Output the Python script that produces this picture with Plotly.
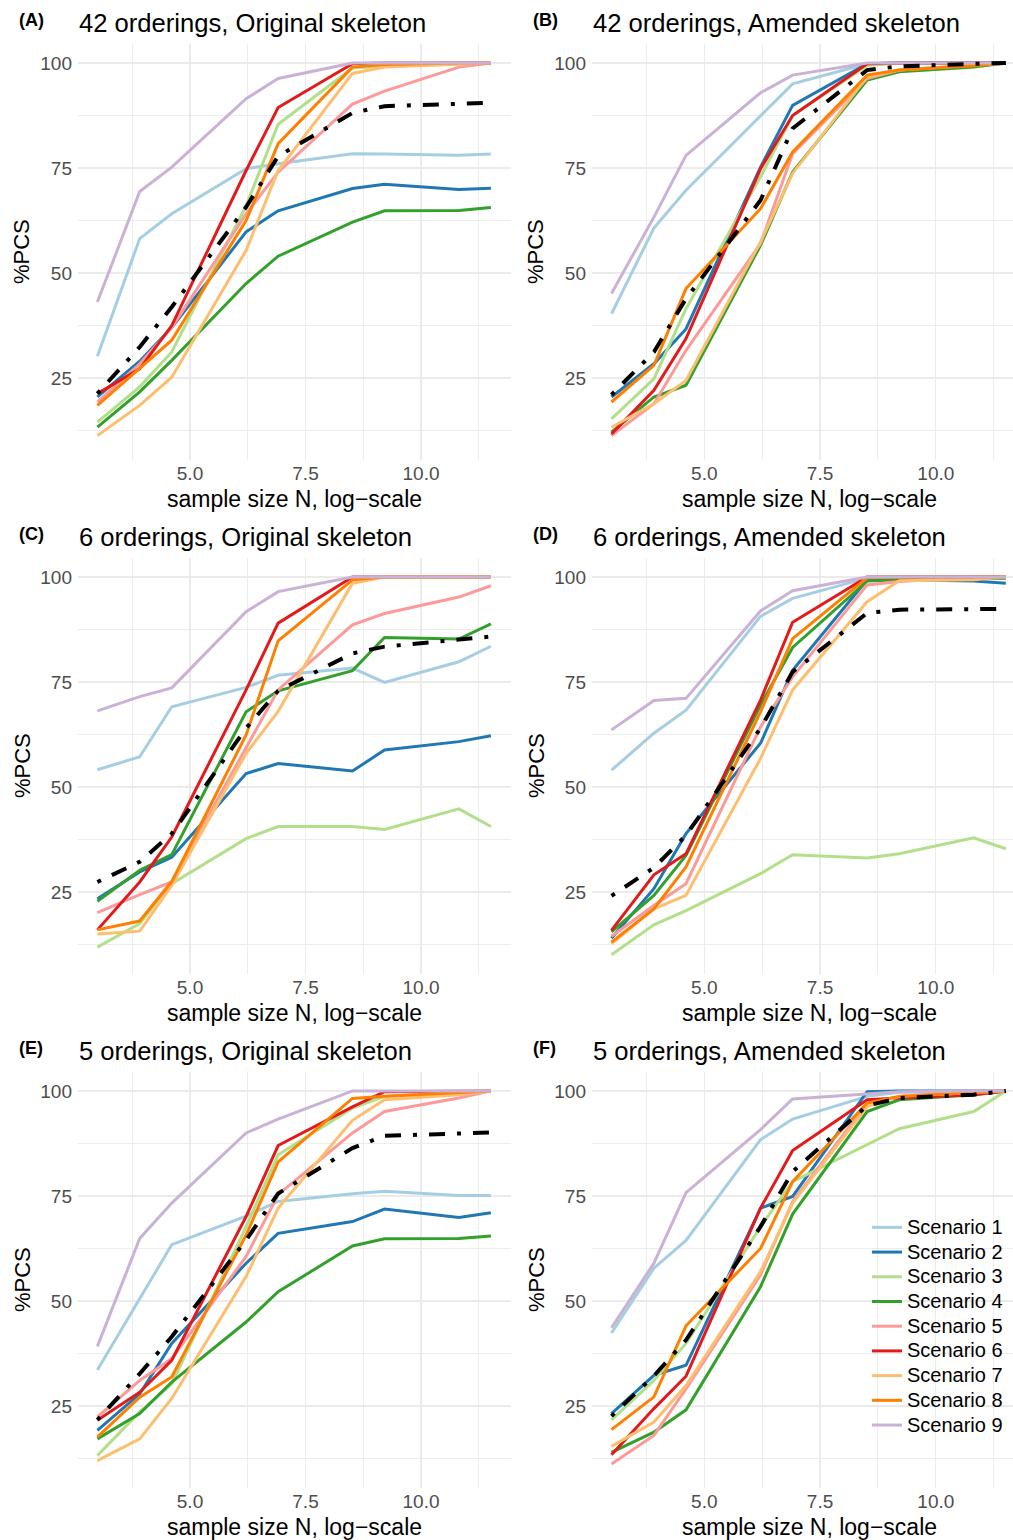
import numpy as np
import plotly.graph_objects as go

# ---------------- data ----------------
sample_size = [20, 50, 100, 500, 1000, 5000, 10000, 50000, 100000]
scenario_names = ["Scenario 1", "Scenario 2", "Scenario 3", "Scenario 4", "Scenario 5",
                  "Scenario 6", "Scenario 7", "Scenario 8", "Scenario 9"]
scenario_colors = ["#A6CEE3", "#1F78B4", "#B2DF8A", "#33A02C", "#FB9A99",
                   "#E31A1C", "#FDBF6F", "#FF7F00", "#CAB2D6"]
panel_labels = ["(A)", "(B)", "(C)", "(D)", "(E)", "(F)"]
panel_titles = ["42 orderings, Original skeleton", "42 orderings, Amended skeleton",
                "6 orderings, Original skeleton", "6 orderings, Amended skeleton",
                "5 orderings, Original skeleton", "5 orderings, Amended skeleton"]
x_tick_vals = [5.0, 7.5, 10.0]
x_minor_vals = [3.75, 6.25, 8.75, 11.25]
y_tick_vals = [25, 50, 75, 100]
y_minor_vals = [12.5, 37.5, 62.5, 87.5]

pcs_A = [
    [30.2, 58.2, 64.1, 74.8, 76.0, 78.4, 78.3, 78.0, 78.3],
    [20.5, 29.0, 37.0, 59.8, 64.8, 70.1, 71.1, 69.9, 70.2],
    [14.5, 22.9, 31.2, 66.0, 85.4, 98.8, 99.2, 99.8, 100],
    [13.3, 21.7, 29.2, 47.5, 54.0, 62.1, 64.8, 64.9, 65.6],
    [19.3, 28.4, 37.0, 64.1, 74.0, 90.2, 93.3, 99.0, 100],
    [21.3, 27.2, 37.5, 74.4, 89.4, 99.8, 100, 100, 100],
    [11.3, 18.5, 25.2, 55.4, 74.4, 97.5, 99.0, 99.8, 100],
    [18.5, 27.2, 34.0, 62.5, 80.8, 99.0, 99.6, 100, 100],
    [43.1, 69.4, 75.2, 91.5, 96.3, 100, 100, 100, 100],
]
mean_A = [21.3, 32.4, 41.9, 65.7, 77.8, 88.1, 89.7, 90.2, 90.5]

pcs_B = [
    [40.3, 60.7, 69.7, 87.5, 95.0, 99.8, 100, 100, 100],
    [20.5, 28.4, 36.7, 75.2, 89.9, 99.8, 100, 100, 100],
    [15.3, 24.8, 41.5, 72.9, 87.5, 99.4, 100, 100, 100],
    [12.1, 20.5, 23.3, 56.6, 74.0, 95.9, 97.9, 99.0, 100],
    [11.3, 18.9, 31.6, 57.0, 78.4, 96.3, 98.3, 99.4, 100],
    [11.7, 22.1, 34.4, 74.8, 87.5, 99.8, 100, 100, 100],
    [13.3, 18.9, 24.4, 57.4, 73.7, 96.7, 98.3, 99.4, 100],
    [19.3, 28.0, 46.3, 65.3, 78.8, 97.1, 98.3, 99.3, 100],
    [45.1, 63.3, 78.0, 92.9, 97.1, 100, 100, 100, 100],
]
mean_B = [21.0, 31.2, 43.9, 67.3, 84.4, 98.3, 99.2, 99.7, 100]

pcs_C = [
    [54.1, 57.2, 69.1, 73.7, 76.6, 78.3, 74.9, 79.8, 83.5],
    [23.4, 29.8, 33.3, 53.2, 55.6, 53.8, 58.8, 60.8, 62.2],
    [11.9, 17.5, 27.0, 37.7, 40.6, 40.6, 39.9, 44.8, 40.6],
    [22.8, 30.2, 33.9, 67.9, 72.9, 77.7, 85.6, 85.2, 88.8],
    [20.1, 24.4, 27.4, 59.2, 73.1, 88.6, 91.3, 95.2, 97.9],
    [16.0, 27.4, 38.1, 73.1, 89.0, 100, 100, 100, 100],
    [15.0, 15.7, 26.6, 58.0, 68.0, 98.5, 100, 100, 100],
    [16.0, 18.1, 27.5, 62.4, 84.8, 99.3, 100, 100, 100],
    [68.1, 71.5, 73.6, 91.7, 96.5, 100, 100, 100, 100],
]
mean_C = [27.4, 32.2, 38.9, 64.0, 72.9, 81.8, 83.4, 85.0, 85.8]

pcs_D = [
    [54.0, 62.8, 68.3, 90.6, 94.9, 99.7, 100, 100, 100],
    [14.0, 25.8, 38.9, 60.4, 77.8, 99.3, 99.3, 99.0, 98.5],
    [10.1, 17.2, 20.6, 29.4, 33.9, 33.1, 34.1, 37.9, 35.3],
    [15.5, 24.2, 33.7, 69.5, 83.2, 99.0, 99.3, 99.5, 99.7],
    [14.5, 21.8, 27.0, 64.3, 76.2, 98.1, 98.9, 100, 100],
    [15.9, 29.1, 34.1, 70.7, 89.2, 100, 100, 100, 100],
    [12.7, 21.0, 24.2, 56.8, 73.1, 94.1, 99.1, 99.3, 100],
    [13.1, 21.0, 31.0, 67.9, 85.3, 99.8, 100, 100, 100],
    [63.6, 70.6, 71.1, 91.9, 96.7, 100, 100, 100, 100],
]
mean_D = [24.1, 30.8, 38.5, 64.0, 77.4, 91.4, 92.2, 92.5, 92.4]

pcs_E = [
    [33.6, 50.7, 63.4, 70.2, 73.7, 75.5, 76.1, 75.1, 75.1],
    [19.2, 27.9, 39.9, 59.0, 66.1, 68.9, 71.9, 69.9, 71.0],
    [13.2, 23.6, 30.3, 67.7, 84.8, 95.9, 98.7, 99.5, 100],
    [17.2, 23.2, 30.7, 45.0, 52.2, 63.1, 64.8, 64.9, 65.5],
    [22.4, 31.1, 36.3, 60.6, 75.3, 90.0, 95.1, 98.3, 100],
    [21.6, 28.3, 35.9, 70.1, 87.0, 96.2, 99.8, 100, 100],
    [12.0, 17.2, 26.8, 55.8, 72.1, 93.0, 97.9, 99.1, 100],
    [17.6, 27.1, 31.9, 65.7, 83.1, 98.2, 98.7, 99.7, 100],
    [39.2, 64.9, 73.3, 90.0, 93.3, 100, 100, 100, 100],
]
mean_E = [21.7, 32.7, 41.5, 64.5, 75.6, 86.4, 89.3, 89.8, 90.1]

pcs_F = [
    [42.4, 57.8, 64.4, 88.4, 93.3, 98.7, 99.7, 100, 100],
    [23.2, 32.3, 34.7, 72.1, 74.9, 99.8, 100, 100, 100],
    [21.7, 31.1, 39.9, 67.7, 78.4, 87.2, 91.0, 95.1, 100],
    [14.0, 18.8, 24.1, 53.4, 70.7, 95.1, 97.9, 99.1, 100],
    [11.2, 18.0, 29.1, 56.2, 73.7, 97.1, 98.7, 100, 100],
    [13.4, 24.4, 32.1, 72.1, 85.8, 97.9, 98.3, 99.1, 100],
    [15.4, 21.2, 29.9, 57.0, 73.3, 96.3, 98.7, 99.5, 100],
    [19.4, 27.2, 44.1, 62.5, 78.4, 97.1, 98.7, 99.5, 100],
    [43.6, 59.0, 75.8, 90.8, 98.1, 99.4, 99.8, 100, 100],
]
mean_F = [22.6, 32.2, 40.7, 67.7, 80.8, 96.5, 98.3, 99.1, 100]

# ---------------- layout helpers ----------------
W, H = 1013, 1540
FONT = "Liberation Sans, Arial, Helvetica, sans-serif"
GRID = "#EBEBEB"


def fx(p):
    return p / W


def fy(p):
    return 1 - p / H


log_n = np.log(sample_size)

panels = [(pcs_A, mean_A), (pcs_B, mean_B), (pcs_C, mean_C),
          (pcs_D, mean_D), (pcs_E, mean_E), (pcs_F, mean_F)]

col_px = [(78, 511), (592, 1013)]
col_full_right = [511, 1026]
row_px = [(44, 460), (558, 974), (1072, 1488)]
x_ranges = [[2.576, 11.948], [2.575, 11.667]]
y_range = [5.5, 104.5]

fig = go.Figure()
annotations = []

for i, (pcs, mean) in enumerate(panels):
    row, col = i // 2, i % 2
    suffix = "" if i == 0 else str(i + 1)
    xref, yref = "x" + suffix, "y" + suffix
    for s in range(9):
        fig.add_trace(go.Scatter(
            x=log_n, y=pcs[s], mode="lines",
            name='<span style="font-size:20px">' + scenario_names[s] + "</span>",
            legendgroup=scenario_names[s], showlegend=(i == 0),
            line=dict(color=scenario_colors[s], width=3),
            xaxis=xref, yaxis=yref, hoverinfo="skip"))
    fig.add_trace(go.Scatter(
        x=log_n, y=mean, mode="lines", name="mean", showlegend=False,
        line=dict(color="black", width=4, dash="4px,12px,16px,12px"),
        xaxis=xref, yaxis=yref, hoverinfo="skip"))

    x0, x1 = col_px[col]
    t, b = row_px[row]
    fig.layout["xaxis" + suffix] = dict(
        domain=[fx(x0), fx(x1)], range=x_ranges[col], anchor=yref,
        tickvals=x_tick_vals, tickformat=".1f", showgrid=True,
        gridcolor=GRID, gridwidth=1.2, zeroline=False, showline=False,
        ticks="", tickfont=dict(family=FONT, size=19, color="#4D4D4D"),
        minor=dict(tickvals=x_minor_vals, showgrid=True, gridcolor=GRID, gridwidth=0.9),
        fixedrange=True)
    fig.layout["yaxis" + suffix] = dict(
        domain=[fy(b), fy(t)], range=y_range, anchor=xref,
        tickvals=y_tick_vals, showgrid=True,
        gridcolor=GRID, gridwidth=1.2, zeroline=False, showline=False,
        ticks="", ticklabelstandoff=5,
        tickfont=dict(family=FONT, size=19, color="#4D4D4D"),
        minor=dict(tickvals=y_minor_vals, showgrid=True, gridcolor=GRID, gridwidth=0.9),
        fixedrange=True)

    # panel label and title
    annotations.append(dict(
        text="<b>" + panel_labels[i] + "</b>", x=fx(x0 - 61), y=fy(t - 24),
        xref="paper", yref="paper", xanchor="left", yanchor="middle",
        showarrow=False, font=dict(family=FONT, size=18, color="black")))
    annotations.append(dict(
        text=panel_titles[i], x=fx(x0 - 1), y=fy(t - 21),
        xref="paper", yref="paper", xanchor="left", yanchor="middle",
        showarrow=False, font=dict(family=FONT, size=25.6, color="black")))
    # axis titles
    annotations.append(dict(
        text="sample size N, log\u2212scale", x=fx((x0 + col_full_right[col]) / 2),
        y=fy(b + 39), xref="paper", yref="paper", xanchor="center", yanchor="middle",
        showarrow=False, font=dict(family=FONT, size=23, color="black")))
    annotations.append(dict(
        text="%PCS", x=fx(x0 - 56), y=fy((t + b) / 2), textangle=-90,
        xref="paper", yref="paper", xanchor="center", yanchor="middle",
        showarrow=False, font=dict(family=FONT, size=22, color="black")))

fig.update_layout(
    width=W, height=H, autosize=False,
    margin=dict(l=0, r=0, t=0, b=0),
    paper_bgcolor="white", plot_bgcolor="white",
    annotations=annotations,
    legend=dict(x=fx(867), y=fy(1210), xanchor="left", yanchor="top",
                bgcolor="rgba(0,0,0,0)", borderwidth=0,
                font=dict(family=FONT, size=16.7, color="black"),
                tracegroupgap=0, itemwidth=30),
    showlegend=True,
)

fig.write_html(
    "out.html",
    config={"displayModeBar": False, "staticPlot": True},
    post_script="document.body.style.margin='0px';document.body.style.overflow='hidden';")
